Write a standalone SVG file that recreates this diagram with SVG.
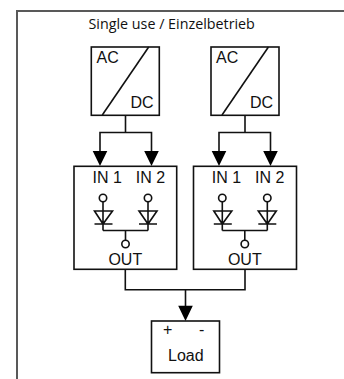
<svg xmlns="http://www.w3.org/2000/svg" width="344" height="379" viewBox="0 0 344 379">
<defs>
<style>
.box{fill:#fff;stroke:#111;stroke-width:1.6}
.ln{fill:none;stroke:#111;stroke-width:1.6}
.hd{fill:#000;stroke:none}
.t{font-family:"Liberation Sans",Arial,sans-serif;font-size:16px;fill:#111}
.m{text-anchor:middle}
.c{fill:#fff;stroke:#111;stroke-width:1.6}
</style>
<g id="oring">
<path class="ln" d="M43 50V79.500M88 50V79.500M43 79.500H88M65.500 79.500V89M34.500 73H52.500M34.500 60H52.500L43 73ZM79 73H97M79 60H97L88 73Z"/>
<circle class="c" cx="43" cy="47" r="3.7"/>
<circle class="c" cx="88" cy="47" r="3.7"/>
<circle class="c" cx="65.500" cy="93" r="3.7"/>
</g>
</defs>
<rect x="17" y="11" width="340" height="380" fill="none" stroke="#595959" stroke-width="2"/>
<text x="88.500" y="28.500" style="font-family:'Open Sans',sans-serif;font-size:14.3px" fill="#111">Single use / Einzelbetrieb</text>
<g id="connectors">
<path class="ln" d="M125.500 115V132.500H100V155M125.500 132.500H151.500V155M245 115V132.500H219V155M245 132.500H270.500V155M125.300 269V289.700H245V269M185.500 289.700V310"/>
<path class="hd" d="M92.700 151H107.300L100 166ZM144.200 151H158.800L151.500 166ZM211.700 151H226.300L219 166ZM263.200 151H277.800L270.500 166ZM178.200 305.700H192.800L185.500 321Z"/>
</g>
<g id="acdc1"><rect class="box" x="91.300" y="47" width="68" height="68.300"/><path class="ln" d="M102.300 115L148.700 47"/><text class="t" x="96.500" y="63">AC</text><text class="t" x="130.500" y="107.500">DC</text></g>
<g id="acdc2"><rect class="box" x="211" y="47" width="68" height="68.300"/><path class="ln" d="M222 115L268.400 47"/><text class="t" x="216" y="63">AC</text><text class="t" x="250" y="107.500">DC</text></g>
<g id="diode1"><rect class="box" x="74" y="166.300" width="102.700" height="103"/><text class="t" x="92.500" y="182.500">IN 1</text><text class="t" x="135.800" y="182.500">IN 2</text><text class="t m" x="125.300" y="265">OUT</text><use href="#oring" x="60" y="151"/></g>
<g id="diode2"><rect class="box" x="193.500" y="166.300" width="103" height="103"/><text class="t" x="211.800" y="182.500">IN 1</text><text class="t" x="255" y="182.500">IN 2</text><text class="t m" x="244.800" y="265">OUT</text><use href="#oring" x="179.300" y="151"/></g>
<g id="load"><rect class="box" x="151.500" y="321" width="68" height="51.700"/><text class="t" x="163" y="335">+</text><text class="t" x="199" y="335">-</text><text class="t m" x="185.800" y="361">Load</text></g>
</svg>
